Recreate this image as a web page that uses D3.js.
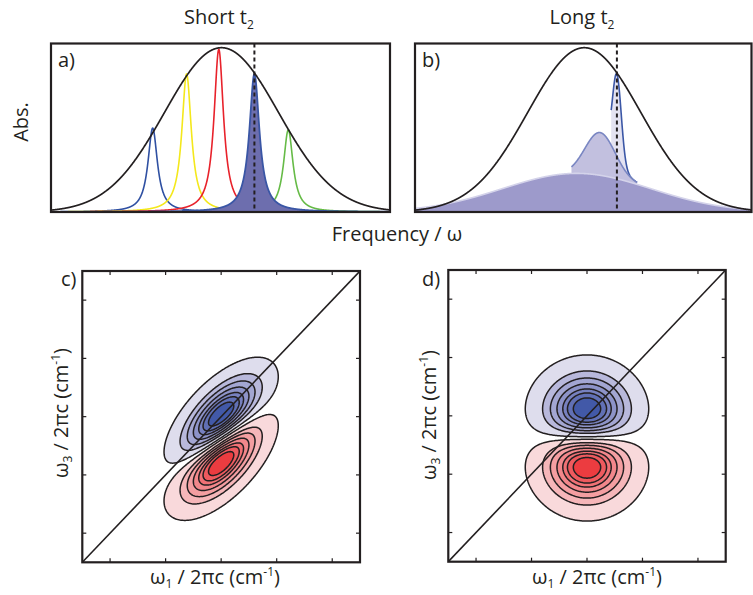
<!DOCTYPE html>
<html><head><meta charset="utf-8">
<script src="https://cdn.jsdelivr.net/npm/d3@7"></script>
<style>
body{margin:0;background:#fff}
svg{display:block}
text{font-family:"Open Sans",sans-serif;fill:#231f20}
</style>
</head><body>
<svg id="chart" width="753" height="595"></svg>
<script>
// ================= DATA =================
// Panel a) short t2: inhomogeneous band (Gaussian) + homogeneous sub-ensembles (Lorentzians)
const freqDomain = [0, 100];
const bandCenter = 50.3;
const bandWidth = 16.8;
const subCenters = [30, 40, 49.5, 60, 70];
const subHeights = [0.51, 0.84, 0.99, 0.84, 0.50];
const subWidths  = [1.7, 1.7, 1.7, 1.8, 1.7];
const selectedIndex = 3;          // the filled (pumped) sub-ensemble
const probeFreq = 60;             // dashed line
// Panel b) long t2: broad, medium and narrow components (stacked)
const longCenters = [48, 55, 60];
const longHeights = [0.235, 0.26, 0.50];
const longWidths  = [22, 4.4, 1.3];
const longRanges  = [[0, 100], [46.5, 66], [58.3, 66]];
// Panels c) d): 2D spectra, bleach (+) and excited-state absorption (−) lobes
const lobeX = [0.5, 0.5];
const lobeY = [0.494, 0.354];
const lobeSign = [1, -1];
const shortT2Widths = [0.115, 0.055];   // diagonal, antidiagonal
const longT2Widths  = [0.0975, 0.09];   // omega1, omega3
const contourLevels = [0.074, 0.26, 0.40, 0.54, 0.67, 0.77, 0.88];
const tickValues = [0.1, 0.3, 0.5, 0.7, 0.9];

// ================= STYLE =================
const ink = "#231f20";
const subColors = ["#2f50a2", "#f4e81c", "#e8222b", "#3a56a5", "#66bb47"];
const selectedFill = "#6d6eae";
const longFills = ["#9d9acb", "#c2c0df", "#e4e3f1"];
const longStrokes = ["#d4d3ea", "#7986c2", "#3b57a6"];
const blueBands = ["#dedded", "#b8b8db", "#a3a6d2", "#8d93c8", "#7781bf", "#6170b5", "#4259a8"];
const redBands  = ["#f9d9db", "#f6b6b9", "#f49ea1", "#f2878b", "#f07175", "#ee5a5e", "#ec3c40"];

const svg = d3.select("#chart");

// ================= TOP PANELS =================
const topY = d3.scaleLinear().domain([0, 1]).range([212, 47.7]);
const topFrameTop = 43.5;
const panelsTop = [
  {id: "a", x: d3.scaleLinear().domain(freqDomain).range([51, 390])},
  {id: "b", x: d3.scaleLinear().domain(freqDomain).range([415, 751.5])}
];
const xs = d3.range(freqDomain[0], freqDomain[1] + 0.0001, 0.05);
const gauss = (x, c, s, h) => h * Math.exp(-((x - c) ** 2) / (2 * s * s));
const lor = (x, c, g, h) => h * g * g / ((x - c) ** 2 + g * g);

panelsTop.forEach(p => {
  svg.append("defs").append("clipPath").attr("id", "clip" + p.id).append("rect")
    .attr("x", p.x.range()[0]).attr("y", topFrameTop)
    .attr("width", p.x.range()[1] - p.x.range()[0]).attr("height", topY(0) - topFrameTop);
});

// ---- panel a
{
  const p = panelsTop[0];
  const g = svg.append("g").attr("clip-path", "url(#clipa)");
  const line = d3.line().x(d => p.x(d[0])).y(d => topY(d[1]));
  subCenters.forEach((c, i) => {
    if (i === selectedIndex) return;
    const pts = xs.map(x => [x, lor(x, c, subWidths[i], subHeights[i])]);
    g.append("path").attr("d", line(pts)).attr("fill", "none")
      .attr("stroke", subColors[i]).attr("stroke-width", 1.6);
  });
  const s = selectedIndex;
  const selPts = xs.map(x => [x, lor(x, subCenters[s], subWidths[s], subHeights[s])]);
  const area = d3.area().x(d => p.x(d[0])).y0(topY(0)).y1(d => topY(d[1]));
  g.append("path").attr("d", area(selPts)).attr("fill", selectedFill);
  g.append("path").attr("d", line(selPts)).attr("fill", "none")
    .attr("stroke", subColors[s]).attr("stroke-width", 1.8);
  const band = xs.map(x => [x, gauss(x, bandCenter, bandWidth, 1)]);
  g.append("path").attr("d", line(band)).attr("fill", "none")
    .attr("stroke", ink).attr("stroke-width", 1.7);
}
// ---- panel b
{
  const p = panelsTop[1];
  const g = svg.append("g").attr("clip-path", "url(#clipb)");
  const line = d3.line().x(d => p.x(d[0])).y(d => topY(d[1]));
  const area = d3.area().x(d => p.x(d[0])).y0(topY(0)).y1(d => topY(d[1]));
  const total = (x, k) => {
    let v = 0;
    for (let i = 0; i <= k; i++) v += gauss(x, longCenters[i], longWidths[i], longHeights[i]);
    return v;
  };
  [2, 1, 0].forEach(k => {
    const r = longRanges[k];
    const pts = xs.filter(x => x >= r[0] - 1e-9 && x <= r[1] + 1e-9).map(x => [x, total(x, k)]);
    g.append("path").attr("d", area(pts)).attr("fill", longFills[k]);
    g.append("path").attr("d", line(pts)).attr("fill", "none")
      .attr("stroke", longStrokes[k]).attr("stroke-width", 1.6);
  });
  const band = xs.map(x => [x, gauss(x, bandCenter, bandWidth, 1)]);
  g.append("path").attr("d", line(band)).attr("fill", "none")
    .attr("stroke", ink).attr("stroke-width", 1.7);
}
panelsTop.forEach(p => {
  svg.append("line").attr("x1", p.x(probeFreq)).attr("x2", p.x(probeFreq))
    .attr("y1", topFrameTop).attr("y2", topY(0))
    .attr("stroke", ink).attr("stroke-width", 2).attr("stroke-dasharray", "4,3");
  svg.append("rect").attr("x", p.x.range()[0]).attr("y", topFrameTop)
    .attr("width", p.x.range()[1] - p.x.range()[0]).attr("height", topY(0) - topFrameTop)
    .attr("fill", "none").attr("stroke", ink).attr("stroke-width", 2.2);
});

// ================= BOTTOM PANELS =================
const N = 260;
const bottom = [
  {id: "c", x: d3.scaleLinear().domain([0, 1]).range([82.3, 360]),
   y: d3.scaleLinear().domain([0, 1]).range([562.3, 271]),
   G: (x, y, cx, cy) => {
     const dx = x - cx, dy = y - cy;
     const u = (dx + dy) / Math.SQRT2, v = (dx - dy) / Math.SQRT2;
     return Math.exp(-0.5 * (u * u / shortT2Widths[0] ** 2 + v * v / shortT2Widths[1] ** 2));
   }},
  {id: "d", x: d3.scaleLinear().domain([0, 1]).range([448.3, 725.7]),
   y: d3.scaleLinear().domain([0, 1]).range([561.7, 270]),
   G: (x, y, cx, cy) => {
     const dx = x - cx, dy = y - cy;
     return Math.exp(-0.5 * (dx * dx / longT2Widths[0] ** 2 + dy * dy / longT2Widths[1] ** 2));
   }}
];

bottom.forEach(p => {
  const x0 = p.x.range()[0], x1 = p.x.range()[1], y0 = p.y.range()[1], y1 = p.y.range()[0];
  svg.append("defs").append("clipPath").attr("id", "clip" + p.id).append("rect")
    .attr("x", x0).attr("y", y0).attr("width", x1 - x0).attr("height", y1 - y0);
  const vals = new Float64Array(N * N);
  let vmax = 0;
  for (let j = 0; j < N; j++) {
    const yv = 1 - (j + 0.5) / N;
    for (let i = 0; i < N; i++) {
      const xv = (i + 0.5) / N;
      let f = 0;
      for (let k = 0; k < lobeX.length; k++) f += lobeSign[k] * p.G(xv, yv, lobeX[k], lobeY[k]);
      vals[j * N + i] = f;
      vmax = Math.max(vmax, Math.abs(f));
    }
  }
  const gx = d3.scaleLinear().domain([0, N]).range([x0, x1]);
  const gy = d3.scaleLinear().domain([0, N]).range([y0, y1]);
  const path = d3.geoPath(d3.geoTransform({
    point: function(px, py) { this.stream.point(gx(px), gy(py)); }
  }));
  const thr = contourLevels.map(l => l * vmax);
  const g = svg.append("g").attr("clip-path", "url(#clip" + p.id + ")");
  [[1, blueBands], [-1, redBands]].forEach(([sgn, cols]) => {
    const v = Array.from(vals, d => sgn * d);
    const cs = d3.contours().size([N, N]).thresholds(thr)(v);
    cs.forEach((c, k) => {
      g.append("path").attr("d", path(c)).attr("fill", cols[k])
        .attr("stroke", ink).attr("stroke-width", 1.5).attr("stroke-linejoin", "round");
    });
  });
  g.append("line").attr("x1", p.x(0)).attr("y1", p.y(0)).attr("x2", p.x(1)).attr("y2", p.y(1))
    .attr("stroke", ink).attr("stroke-width", 1.6);
  const tl = 4;
  tickValues.forEach(t => {
    [[p.x(t), y1, p.x(t), y1 - tl], [p.x(t), y0, p.x(t), y0 + tl],
     [x0, p.y(t), x0 + tl, p.y(t)], [x1, p.y(t), x1 - tl, p.y(t)]].forEach(s => {
      svg.append("line").attr("x1", s[0]).attr("y1", s[1]).attr("x2", s[2]).attr("y2", s[3])
        .attr("stroke", ink).attr("stroke-width", 1.2);
    });
  });
  svg.append("rect").attr("x", x0).attr("y", y0).attr("width", x1 - x0).attr("height", y1 - y0)
    .attr("fill", "none").attr("stroke", ink).attr("stroke-width", 2.2);
});

// ================= TEXT =================
const fs = 20, sfs = 12;
function title(x, y, main, sub) {
  const t = svg.append("text").attr("x", x).attr("y", y).attr("text-anchor", "middle").attr("font-size", fs);
  t.append("tspan").text(main);
  t.append("tspan").attr("dy", 5).attr("font-size", sfs).text(sub);
}
title(219, 24, "Short t", "2");
title(582, 24, "Long t", "2");
svg.append("text").attr("x", 58).attr("y", 67).attr("font-size", fs).text("a)");
svg.append("text").attr("x", 422).attr("y", 67).attr("font-size", fs).text("b)");
svg.append("text").attr("x", 61).attr("y", 286).attr("font-size", fs).text("c)");
svg.append("text").attr("x", 422).attr("y", 286).attr("font-size", fs).text("d)");
svg.append("text").attr("transform", "translate(28,122) rotate(-90)")
  .attr("text-anchor", "middle").attr("font-size", fs).text("Abs.");
svg.append("text").attr("x", 397).attr("y", 241).attr("text-anchor", "middle")
  .attr("font-size", fs).text("Frequency / ω");

function omegaLabel(sel, sub) {
  sel.attr("text-anchor", "middle").attr("font-size", fs);
  sel.append("tspan").text("ω");
  sel.append("tspan").attr("dy", 4).attr("font-size", sfs).text(sub);
  sel.append("tspan").attr("dy", -4).text(" / 2πc (cm");
  sel.append("tspan").attr("dy", -8).attr("font-size", sfs).text("-1");
  sel.append("tspan").attr("dy", 8).text(")");
}
omegaLabel(svg.append("text").attr("x", 215).attr("y", 584), "1");
omegaLabel(svg.append("text").attr("x", 597).attr("y", 584), "1");
omegaLabel(svg.append("text").attr("transform", "translate(68,413) rotate(-90)"), "3");
omegaLabel(svg.append("text").attr("transform", "translate(436,415) rotate(-90)"), "3");
</script>
</body></html>
